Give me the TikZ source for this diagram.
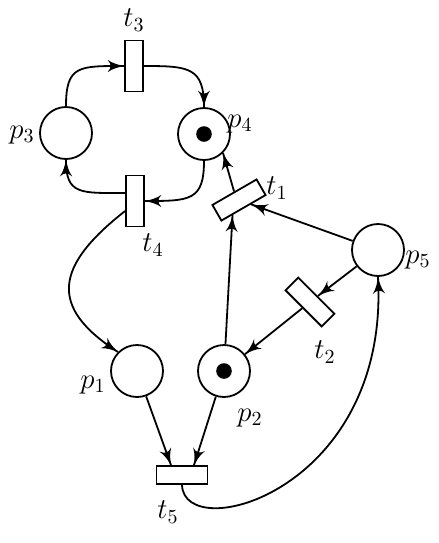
\documentclass[tikz,border=0pt]{standalone}
\usepackage{amsmath}
\usepackage{tikz}
\usetikzlibrary{arrows}
\usetikzlibrary{calc}
\usetikzlibrary{decorations.markings}
\tikzset{place/.style = {draw, circle, minimum size = 26pt, inner sep = 0}}
\tikzset{trans/.style = {draw, rectangle, minimum width = 9pt, minimum height = 25.5pt, inner sep = 0}}
\tikzset{htrans/.style = {draw, rectangle, minimum width = 25.5pt, minimum height = 9pt, inner sep = 0}}
\tikzset{arc/.style = {decoration={markings,
                                  mark=at position 0.999 with {\arrow[scale=1.5]{latex'}}},
                      postaction={decorate}}}
\tikzset{lbl/.style = {font = \Large}}

\begin{document}
\begin{tikzpicture}[x=0.5pt, y=-0.5pt, line width=0.9pt]
      \useasboundingbox (0, 0) rectangle (439, 543);

      \node [place] (p3) at (66, 133) {};
      \node [place] (p4) at (204, 134) {};
      \node [place] (p5) at (378, 250) {};
      \node [place] (p1) at (137, 371) {};
      \node [place] (p2) at (224, 371) {};
      \fill (p4.center) circle [radius=3.9pt];
      \fill (p2.center) circle [radius=3.9pt];

      \node [trans] (t3) at (134, 66) {};
      \node [trans] (t4) at (135, 201) {};
      \node [htrans, rotate=30] (t1) at (239, 200) {};
      \node [htrans, rotate=-45] (t2) at (310, 302) {};
      \node [htrans] (t5) at (182, 475) {};

      \draw [arc] (p3.north) .. controls +(0, -41) and +(-45, 0) .. (t3.west);
      \draw [arc] (t3.east) .. controls +(45, 0) and +(0, -40) .. (p4.north);
      \draw [arc] (p4.south) .. controls +(0, 40) and +(45, 0) .. (t4.east);
      \draw [arc] ([yshift=4pt]t4.west) .. controls +(-45, 0) and +(0, 35) .. (p3.south);
      \draw [arc] ([yshift=-5pt]t4.west) .. controls +(-70, 55) and +(-70, -45) .. (p1.135);

      \draw [arc] (t1.north) -- (p4.-45);
      \draw [arc] (p5) -- (t1);
      \draw [arc] (p5) -- (t2);
      \draw [arc] (t2) -- (p2);
      \draw [arc] (p2) -- ($(t1.south)!0.5!(t1.south west)$);

      \draw [arc] (p1) -- ([xshift=-5.5pt]t5.north);
      \draw [arc] (p2) -- ([xshift=6pt]t5.north);
      \draw [arc] (t5.south) .. controls +(2, 61) and +(12, 214) .. (p5.south);

      \node [lbl] (lt3) at (134, 20) {$t_3$};
      \node [lbl] (lp3) at (22, 135) {$p_3$};
      \node [lbl] (lp4) at (240, 124) {$p_4$};
      \node [lbl] (lt1) at (277, 188) {$t_1$};
      \node [lbl] (lt4) at (153, 245) {$t_4$};
      \node [lbl] (lp5) at (418, 260) {$p_5$};
      \node [lbl] (lt2) at (325, 352) {$t_2$};
      \node [lbl] (lp1) at (93, 385) {$p_1$};
      \node [lbl] (lp2) at (250, 418) {$p_2$};
      \node [lbl] (lt5) at (168, 512) {$t_5$};
    \end{tikzpicture}
\end{document}
